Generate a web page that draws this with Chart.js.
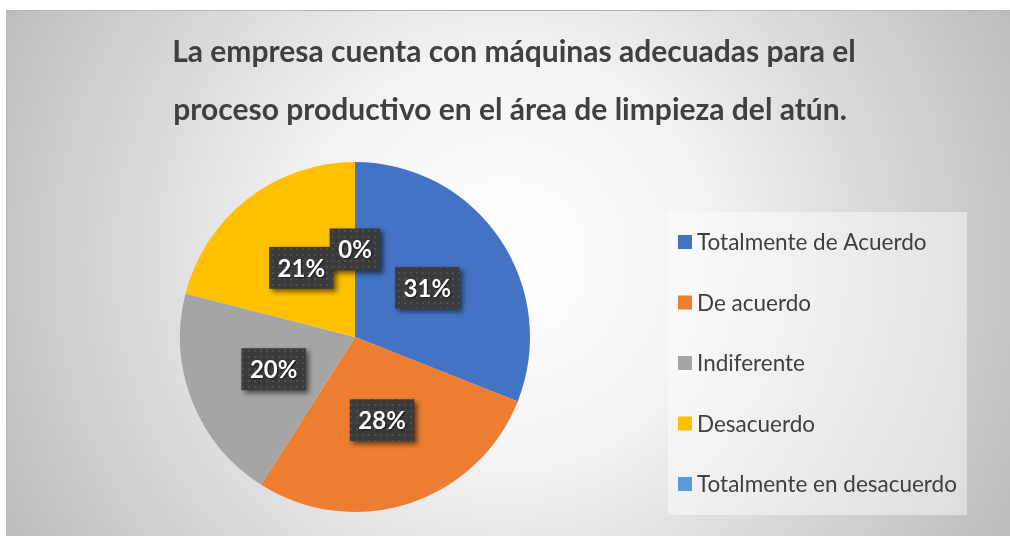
<!DOCTYPE html>
<html>
<head>
<meta charset="utf-8">
<script src="https://cdn.jsdelivr.net/npm/chart.js@4.4.1/dist/chart.umd.min.js"></script>
<style>
  html, body { margin: 0; padding: 0; background: #fff; }
  #wrap { width: 1010px; height: 536px; }
</style>
</head>
<body>
<div id="wrap"><canvas id="grafico" width="1010" height="536"></canvas></div>
<script>
// datos del gráfico
const categorias = ['Totalmente de Acuerdo', 'De acuerdo', 'Indiferente', 'Desacuerdo', 'Totalmente en desacuerdo'];
const valores = [31, 28, 20, 21, 0];
const colores = ['#4472C4', '#ED7D31', '#A5A5A5', '#FFC000', '#5B9BD5'];
const tituloLineas = ['La empresa cuenta con máquinas adecuadas para el', 'proceso productivo en el área de limpieza del atún.'];

// patrón punteado para las etiquetas
const patCanvas = document.createElement('canvas');
patCanvas.width = 6; patCanvas.height = 6;
const pc = patCanvas.getContext('2d');
pc.fillStyle = '#3b3b3b';
pc.fillRect(0, 0, 6, 6);
pc.fillStyle = '#4e4e4e';
pc.fillRect(2, 2, 2, 2);

// fondo, título y marco
const fondo = {
    id: 'fondo',
    beforeDraw(chart) {
        const ctx = chart.ctx;
        ctx.save();
        ctx.fillStyle = '#ffffff';
        ctx.fillRect(0, 0, 1010, 536);
        const g = ctx.createRadialGradient(505, 260, 0, 505, 260, 560);
        g.addColorStop(0, '#ffffff');
        g.addColorStop(0.35, '#f4f4f4');
        g.addColorStop(1, '#bdbdbd');
        ctx.fillStyle = g;
        ctx.fillRect(6, 10, 1004, 526);
        ctx.strokeStyle = '#b5b5b5';
        ctx.lineWidth = 1;
        ctx.beginPath();
        ctx.moveTo(6.5, 536); ctx.lineTo(6.5, 10.5); ctx.lineTo(1010, 10.5);
        ctx.stroke();

        ctx.fillStyle = '#404040';
        ctx.font = 'bold 30px Lato';
        ctx.textAlign = 'center';
        ctx.textBaseline = 'middle';
        ctx.fillText(tituloLineas[0], 514, 52);
        ctx.fillText(tituloLineas[1], 510, 110);
        ctx.restore();
    }
};

// etiquetas de porcentaje y leyenda
const etiquetas = {
    id: 'etiquetas',
    afterDatasetsDraw(chart) {
        const ctx = chart.ctx;
        const meta = chart.getDatasetMeta(0);
        const pattern = ctx.createPattern(patCanvas, 'repeat');
        ctx.save();
        ctx.font = 'bold 24px Lato';
        ctx.textAlign = 'center';
        ctx.textBaseline = 'middle';
        meta.data.forEach((arc, i) => {
            const p = arc.tooltipPosition();
            const txt = valores[i] + '%';
            const w = ctx.measureText(txt).width + 17;
            const h = 42;
            ctx.save();
            ctx.shadowColor = 'rgba(0,0,0,0.55)';
            ctx.shadowBlur = 5;
            ctx.shadowOffsetX = 3;
            ctx.shadowOffsetY = 3;
            ctx.fillStyle = pattern;
            ctx.fillRect(p.x - w / 2, p.y - h / 2, w, h);
            ctx.restore();
            ctx.save();
            ctx.shadowColor = 'rgba(0,0,0,0.6)';
            ctx.shadowBlur = 2;
            ctx.shadowOffsetX = 1;
            ctx.shadowOffsetY = 1;
            ctx.fillStyle = '#ffffff';
            ctx.fillText(txt, p.x, p.y + 1);
            ctx.restore();
        });

        // leyenda
        ctx.fillStyle = 'rgba(255,255,255,0.45)';
        ctx.fillRect(668, 212, 299, 303);
        ctx.font = '22.5px Lato';
        ctx.textAlign = 'left';
        categorias.forEach((c, i) => {
            const y = 242 + i * 60.5;
            ctx.fillStyle = colores[i];
            ctx.fillRect(678, y - 7, 14, 14);
            ctx.fillStyle = '#404040';
            ctx.fillText(c, 697, y + 1);
        });
        ctx.restore();
    }
};

new Chart(document.getElementById('grafico'), {
    type: 'pie',
    data: {
        labels: categorias,
        datasets: [{
            data: valores,
            backgroundColor: colores,
            borderWidth: 0
        }]
    },
    options: {
        responsive: false,
        animation: false,
        layout: { padding: { left: 180, right: 480, top: 162, bottom: 24 } },
        plugins: {
            legend: { display: false },
            title: { display: false },
            tooltip: { enabled: false }
        }
    },
    plugins: [fondo, etiquetas]
});
</script>
</body>
</html>
